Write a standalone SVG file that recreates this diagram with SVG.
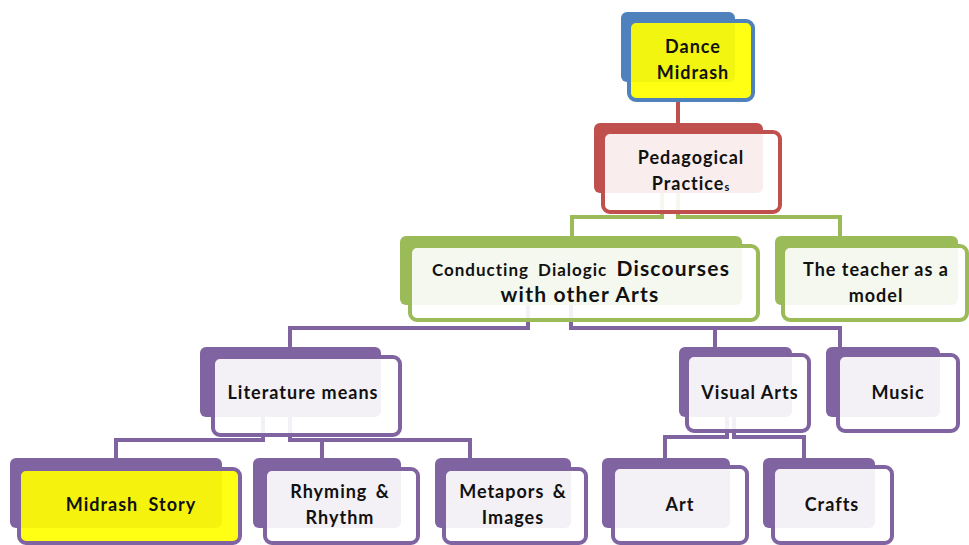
<svg xmlns="http://www.w3.org/2000/svg" width="969" height="545" viewBox="0 0 969 545">
  <style>
    .back { stroke: none; }
    .front { stroke-width: 4; fill: #ffffff; fill-opacity: 0.9; }
    .hl { fill: #ffff00; fill-opacity: 0.92; }
    .blue { fill: #4f81bd; } .blueS { stroke: #4f81bd; }
    .red { fill: #c0504d; } .redS { stroke: #c0504d; }
    .green { fill: #9bbb59; } .greenS { stroke: #9bbb59; }
    .purple { fill: #8064a2; } .purpleS { stroke: #8064a2; }
    .conn { fill: none; stroke-width: 4; stroke-linejoin: miter; }
    text { font-family: Lato, "Liberation Sans", sans-serif; font-weight: bold; font-size: 18px; letter-spacing: 1px; fill: #111111; text-anchor: middle; }
    .big { font-size: 21px; letter-spacing: 1.2px; }
  </style>

  <!-- connectors (drawn beneath the boxes) -->
  <g id="connectors">
    <path class="conn redS" d="M678,98 V132"/>
    <path class="conn greenS" d="M662,193 V217 H572 V240"/>
    <path class="conn greenS" d="M678,193 V217 H840 V240"/>
    <path class="conn purpleS" d="M528,305 V328 H290 V350"/>
    <path class="conn purpleS" d="M571,305 V328 H840 V350"/>
    <path class="conn purpleS" d="M715,328 V350"/>
    <path class="conn purpleS" d="M263,417 V440 H116 V460"/>
    <path class="conn purpleS" d="M290,417 V440 H470 V460"/>
    <path class="conn purpleS" d="M322,440 V460"/>
    <path class="conn purpleS" d="M727,417 V437 H665 V460"/>
    <path class="conn purpleS" d="M734,417 V437 H804 V460"/>
  </g>

  <g id="dance-midrash">
    <rect class="back blue" x="621" y="12" width="114" height="70" rx="6"/>
    <rect class="front blueS hl" x="629" y="21" width="124" height="79" rx="7"/>
    <text x="693" y="53">Dance</text>
    <text x="693" y="79">Midrash</text>
  </g>

  <g id="pedagogical-practices">
    <rect class="back red" x="594" y="123" width="169" height="70" rx="6"/>
    <rect class="front redS" x="603" y="132" width="177" height="80" rx="7"/>
    <text x="691" y="164">Pedagogical</text>
    <text x="691" y="190">Practice<tspan font-size="11" dy="1">s</tspan></text>
  </g>

  <g id="dialogic-discourses">
    <rect class="back green" x="400" y="236" width="342" height="69" rx="6"/>
    <rect class="front greenS" x="410" y="246" width="348" height="74" rx="7"/>
    <text x="581" y="276" word-spacing="4"><tspan font-size="17">Conducting Dialogic </tspan><tspan class="big">Discourses</tspan></text>
    <text class="big" x="580" y="302">with other Arts</text>
  </g>

  <g id="teacher-model">
    <rect class="back green" x="775" y="236" width="183" height="69" rx="6"/>
    <rect class="front greenS" x="783" y="246" width="184" height="74" rx="7"/>
    <text x="876" y="276">The teacher as a</text>
    <text x="876" y="302">model</text>
  </g>

  <g id="literature-means">
    <rect class="back purple" x="200" y="347" width="181" height="70" rx="6"/>
    <rect class="front purpleS" x="213" y="357" width="187" height="78" rx="7"/>
    <text x="303" y="399">Literature means</text>
  </g>

  <g id="visual-arts">
    <rect class="back purple" x="679" y="347" width="113" height="70" rx="6"/>
    <rect class="front purpleS" x="687" y="355" width="122" height="76" rx="7"/>
    <text x="750" y="399">Visual Arts</text>
  </g>

  <g id="music">
    <rect class="back purple" x="826" y="347" width="114" height="70" rx="6"/>
    <rect class="front purpleS" x="838" y="355" width="120" height="76" rx="7"/>
    <text x="898" y="399">Music</text>
  </g>

  <g id="midrash-story">
    <rect class="back purple" x="10" y="458" width="212" height="70" rx="6"/>
    <rect class="front purpleS hl" x="19" y="469" width="221" height="74" rx="7"/>
    <text x="131" y="511" word-spacing="5">Midrash Story</text>
  </g>

  <g id="rhyming-rhythm">
    <rect class="back purple" x="253" y="458" width="148" height="70" rx="6"/>
    <rect class="front purpleS" x="265" y="469" width="153" height="74" rx="7"/>
    <text x="340" y="498" word-spacing="3">Rhyming &amp;</text>
    <text x="340" y="524">Rhythm</text>
  </g>

  <g id="metapors-images">
    <rect class="back purple" x="435" y="458" width="136" height="70" rx="6"/>
    <rect class="front purpleS" x="444" y="469" width="142" height="74" rx="7"/>
    <text x="513" y="498" word-spacing="3">Metapors &amp;</text>
    <text x="513" y="524">Images</text>
  </g>

  <g id="art">
    <rect class="back purple" x="602" y="458" width="128" height="70" rx="6"/>
    <rect class="front purpleS" x="613" y="467" width="134" height="76" rx="7"/>
    <text x="680" y="511">Art</text>
  </g>

  <g id="crafts">
    <rect class="back purple" x="763" y="458" width="112" height="70" rx="6"/>
    <rect class="front purpleS" x="773" y="467" width="119" height="76" rx="7"/>
    <text x="832" y="511">Crafts</text>
  </g>
</svg>
